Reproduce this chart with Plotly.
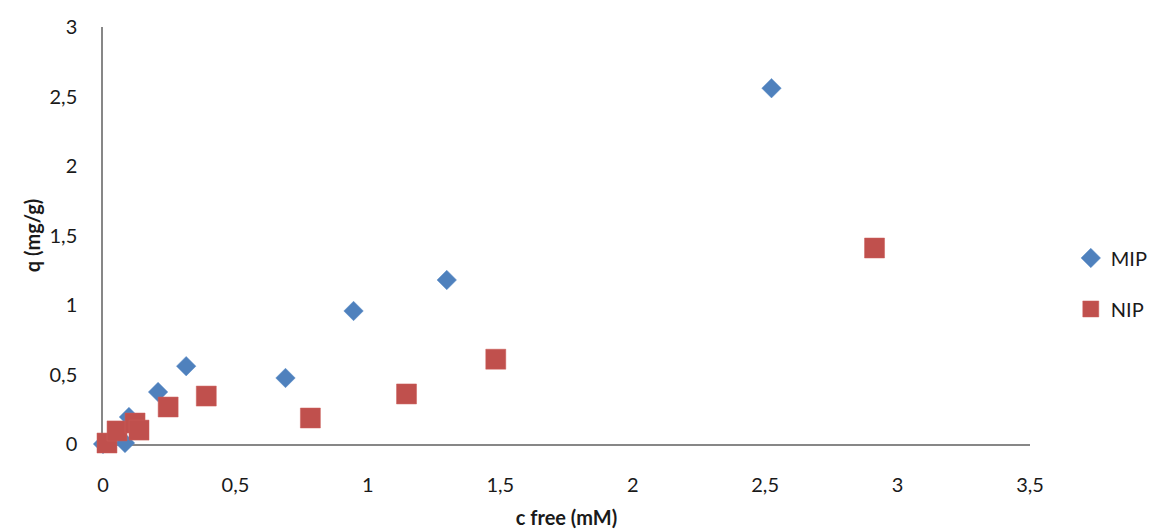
import plotly.graph_objects as go

# Free concentration (mM) and bound amount (mg/g)
mip_c = [0.0, 0.083, 0.098, 0.208, 0.314, 0.689, 0.946, 1.298, 2.524]
mip_q = [0.0, 0.007, 0.194, 0.374, 0.56, 0.475, 0.957, 1.18, 2.56]

nip_c = [0.015, 0.053, 0.121, 0.136, 0.246, 0.39, 0.783, 1.146, 1.483, 2.913]
nip_q = [0.007, 0.094, 0.151, 0.10, 0.266, 0.345, 0.187, 0.36, 0.61, 1.41]

x_ticks = [0, 0.5, 1, 1.5, 2, 2.5, 3, 3.5]
y_ticks = [0, 0.5, 1, 1.5, 2, 2.5, 3]

FONT = "Lato, 'Open Sans', sans-serif"
AXIS_GREY = "#878787"

fig = go.Figure()
fig.add_trace(go.Scatter(
    x=mip_c, y=mip_q, mode="markers", name="MIP", legendgroup="a",
    cliponaxis=False,
    marker=dict(symbol="diamond", size=15, color="#4F81BD",
                line=dict(width=0.5, color="#5B8DC9")),
))
fig.add_trace(go.Scatter(
    x=nip_c, y=nip_q, mode="markers", name="NIP", legendgroup="b",
    cliponaxis=False,
    marker=dict(symbol="square", size=20, color="#C0504D",
                line=dict(width=0.5, color="#CC5E5B")),
))

fig.update_layout(
    width=1154, height=532,
    margin=dict(l=103, r=124, t=27, b=88, autoexpand=False),
    paper_bgcolor="white", plot_bgcolor="white",
    separators=", ",
    font=dict(family=FONT, size=20, color="#1a1a1a"),
    legend=dict(x=1.044, y=0.385, xanchor="left", yanchor="middle",
                font=dict(size=20, family=FONT), tracegroupgap=22,
                itemwidth=30, bgcolor="rgba(0,0,0,0)"),
    xaxis=dict(
        range=[0, 3.5], tickvals=x_ticks, showgrid=False, zeroline=False,
        showline=True, linecolor=AXIS_GREY, linewidth=2, layer="below traces",
        ticks="", ticklabelstandoff=22,
        title=dict(text="<b>c free (mM)</b>", font=dict(size=20), standoff=16),
    ),
    yaxis=dict(
        range=[0, 3], tickvals=y_ticks, showgrid=False, zeroline=False,
        showline=True, linecolor=AXIS_GREY, linewidth=1.5, layer="below traces",
        ticks="", ticklabelstandoff=20,
        title=dict(text="<b>q (mg/g)</b>", font=dict(size=20), standoff=4),
    ),
)

fig.write_html("out.html")
